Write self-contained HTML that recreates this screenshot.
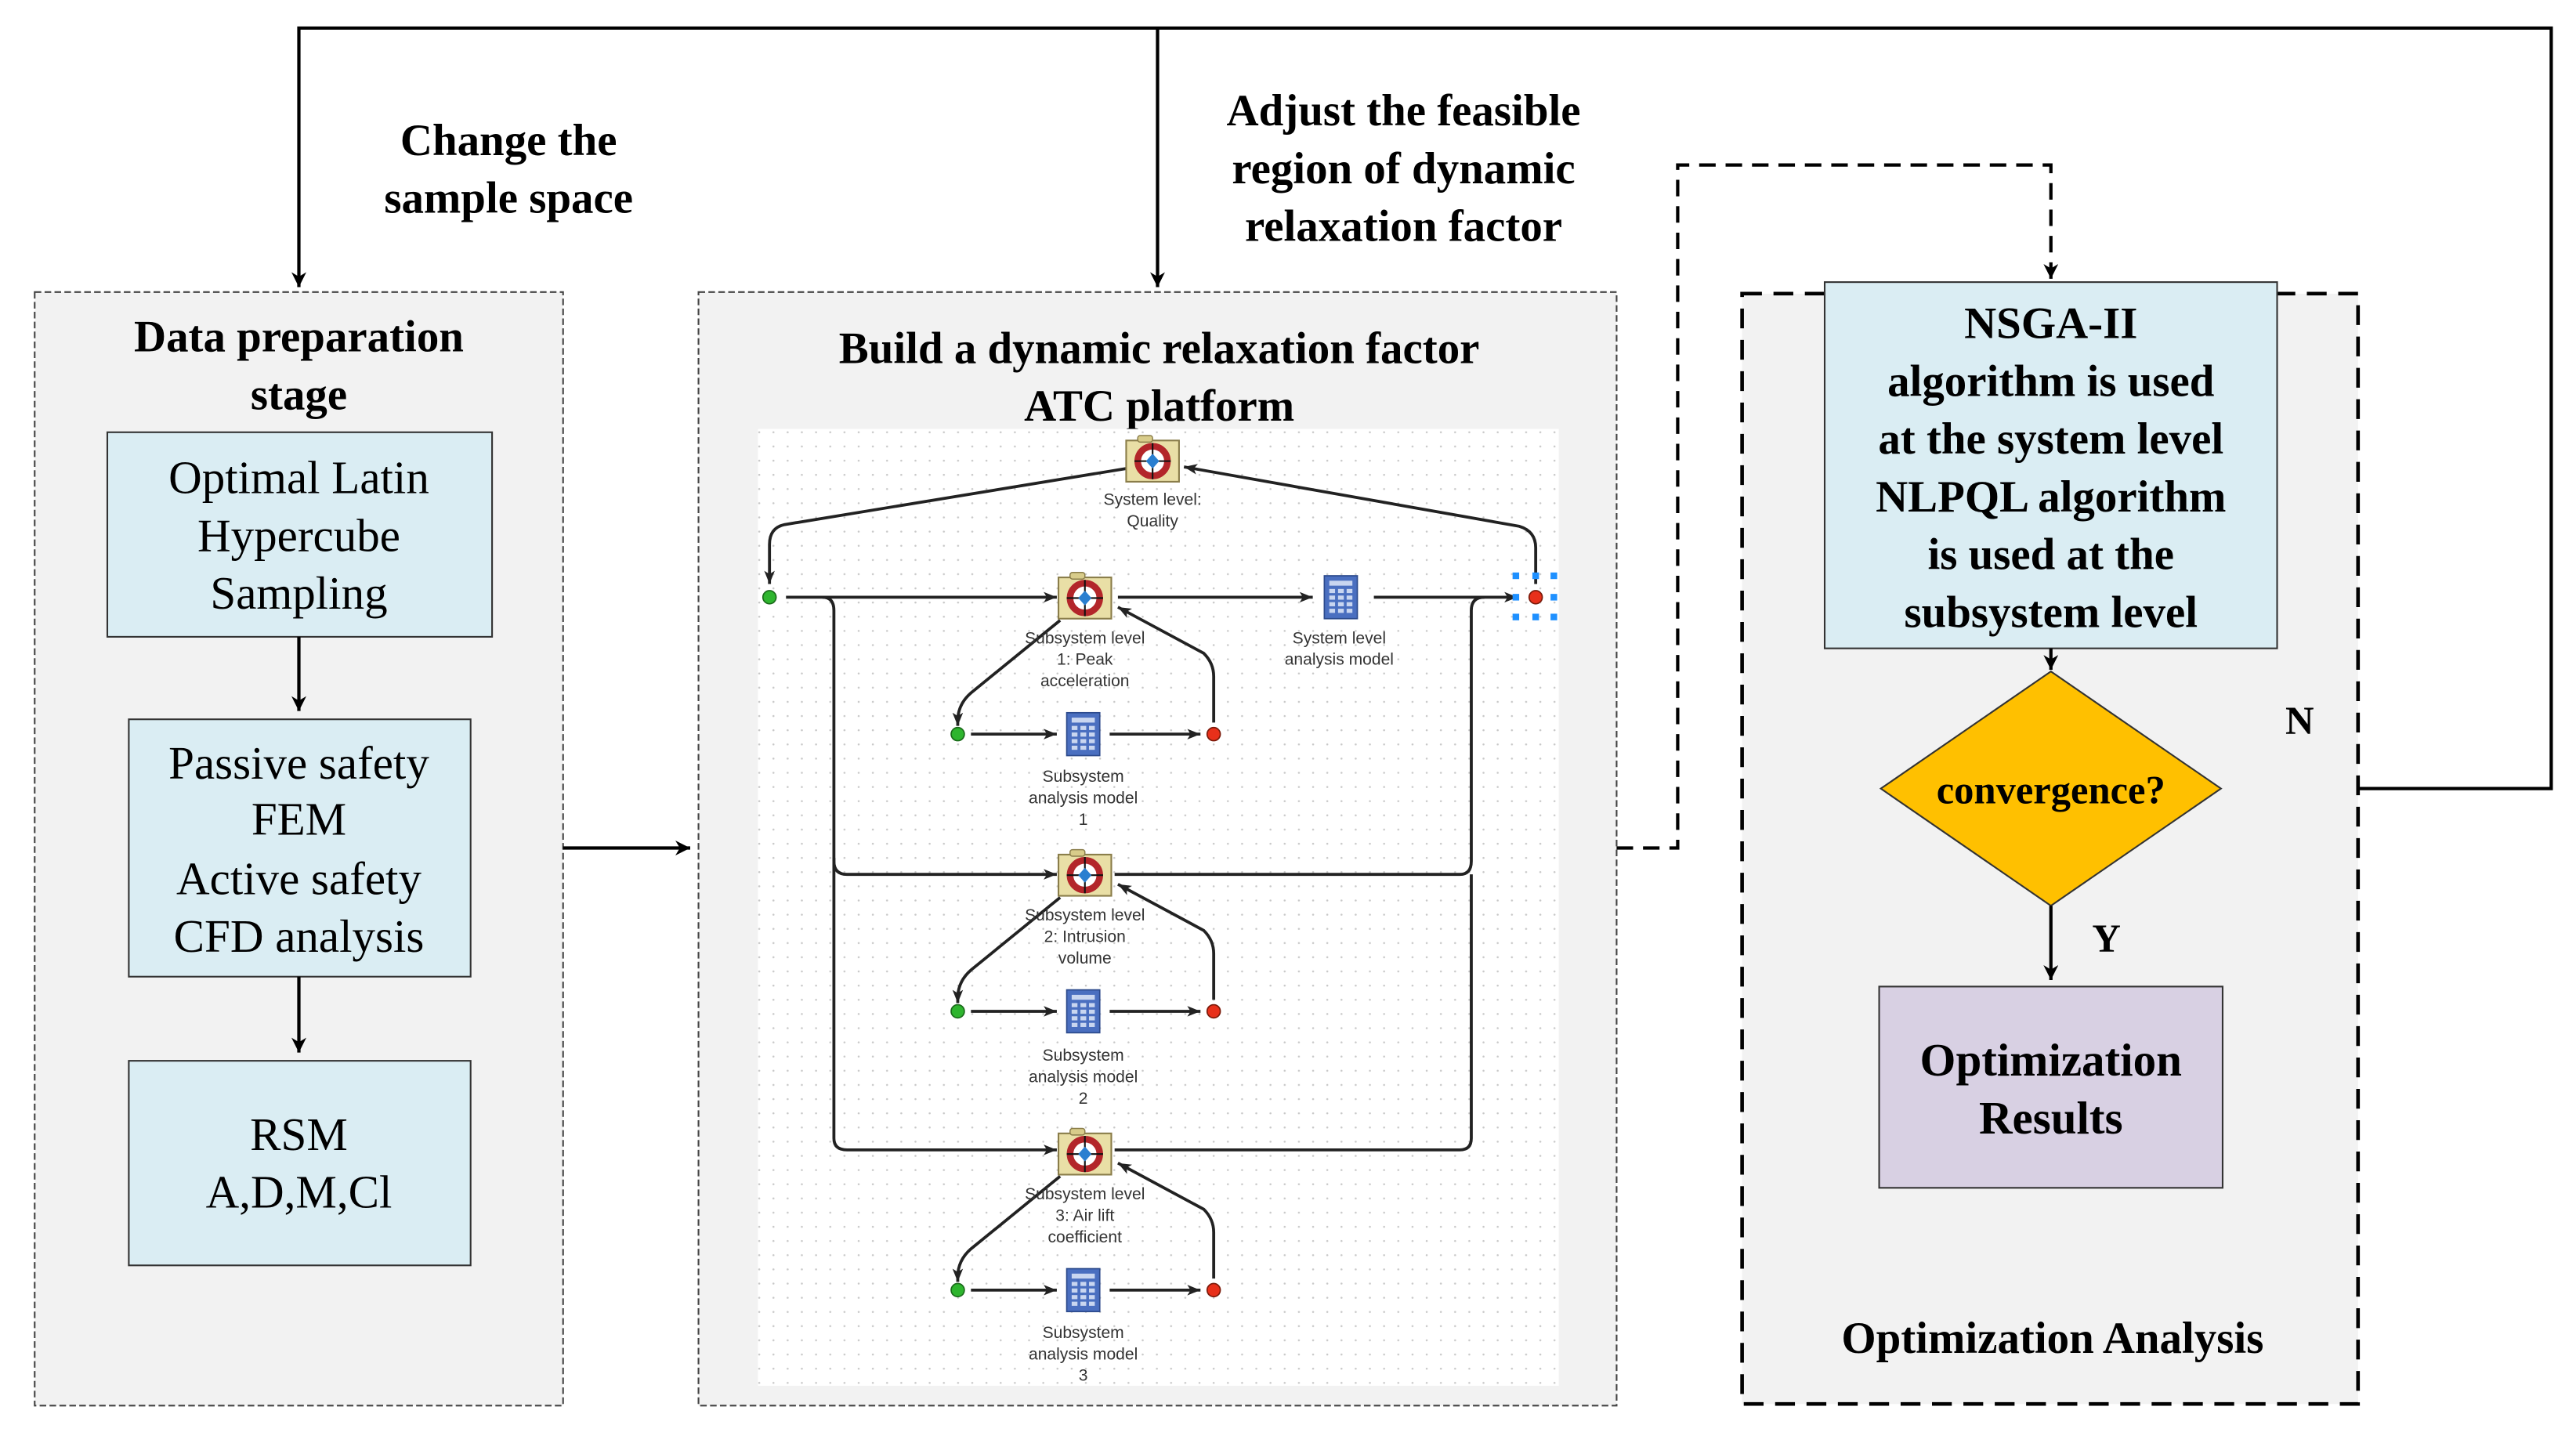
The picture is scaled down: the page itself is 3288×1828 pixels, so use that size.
<!DOCTYPE html>
<html><head><meta charset="utf-8"><style>
html,body{margin:0;padding:0;background:#fff}
svg{display:block}
.t{font-family:"Liberation Serif",serif;fill:#000}
.b{font-weight:bold}
.s{font-family:"Liberation Sans",sans-serif;font-size:10px;fill:#333;text-anchor:middle}
</style></head><body>
<svg width="3288" height="1828" viewBox="0 0 1560 868" preserveAspectRatio="none" xmlns="http://www.w3.org/2000/svg">
<defs>
<marker id="a" viewBox="0 0 10 10" refX="10" refY="5" markerWidth="9" markerHeight="9" orient="auto" markerUnits="userSpaceOnUse"><path d="M0,0 L10,5 L0,10 L3,5 z" fill="#000"/></marker>
<marker id="a2" viewBox="0 0 10 10" refX="10" refY="5" markerWidth="8" markerHeight="8" orient="auto" markerUnits="userSpaceOnUse"><path d="M0,1 L10,5 L0,9 L2.5,5 z" fill="#222"/></marker>
<pattern id="dots" width="8.6" height="8.6" patternUnits="userSpaceOnUse"><circle cx="4" cy="4" r="0.6" fill="#c8c8c8"/></pattern>
<g id="tgt">
<rect x="-16" y="-12" width="32" height="25" fill="#e9dfa6" stroke="#8a7d4a" stroke-width="1"/>
<rect x="-9" y="-15" width="9" height="4" rx="1.5" fill="#d8cc8a" stroke="#8a7d4a" stroke-width="0.7"/>
<circle cx="0" cy="0.5" r="9" fill="#fff" stroke="#b3262a" stroke-width="4"/>
<path d="M-11,0.5 H11 M0,-10.5 V11.5" stroke="#111" stroke-width="1"/>
<path d="M0,-4 L4,0.5 L0,5 L-4,0.5 z" fill="#2a7fd0"/>
</g>
<g id="calc">
<rect x="-10" y="-13" width="20" height="26" fill="#4a6fc0" stroke="#2c4a8c" stroke-width="0.8"/>
<rect x="-7" y="-10" width="14" height="3" fill="#c9d6f0"/>
<g fill="#c9d6f0">
<rect x="-7" y="-5" width="3.5" height="2.5"/><rect x="-1.7" y="-5" width="3.5" height="2.5"/><rect x="3.5" y="-5" width="3.5" height="2.5"/>
<rect x="-7" y="-1" width="3.5" height="2.5"/><rect x="-1.7" y="-1" width="3.5" height="2.5"/><rect x="3.5" y="-1" width="3.5" height="2.5"/>
<rect x="-7" y="3" width="3.5" height="2.5"/><rect x="-1.7" y="3" width="3.5" height="2.5"/><rect x="3.5" y="3" width="3.5" height="2.5"/>
<rect x="-7" y="7" width="3.5" height="2.5"/><rect x="-1.7" y="7" width="3.5" height="2.5"/><rect x="3.5" y="7" width="3.5" height="2.5"/>
</g>
</g>
<g id="gd"><circle r="4" fill="#2eb52e" stroke="#1a6a1a" stroke-width="0.8"/></g>
<g id="rd"><circle r="4" fill="#e8301a" stroke="#7a1a0a" stroke-width="0.8"/></g>
</defs>

<path d="M1345,478 H1545 V17 H181 V174" fill="none" stroke="#000" stroke-width="2" marker-end="url(#a)"/>
<path d="M701,17 V174" fill="none" stroke="#000" stroke-width="2" marker-end="url(#a)"/>

<rect x="21" y="177" width="320" height="675" fill="#f2f2f2" stroke="#444" stroke-width="1" stroke-dasharray="4,2"/>
<rect x="423" y="177" width="556" height="675" fill="#f2f2f2" stroke="#444" stroke-width="1" stroke-dasharray="4,2"/>
<rect x="1055" y="178" width="373" height="673" fill="#f2f2f2" stroke="#000" stroke-width="2.2" stroke-dasharray="12,7"/>

<g class="t b" font-size="27" text-anchor="middle">
<text x="308" y="94">Change the</text>
<text x="308" y="129">sample space</text>
<text x="850" y="76">Adjust the feasible</text>
<text x="850" y="111">region of dynamic</text>
<text x="850" y="146">relaxation factor</text>
</g>

<text class="t b" font-size="27" text-anchor="middle" x="181" y="213">Data preparation</text>
<text class="t b" font-size="27" text-anchor="middle" x="181" y="248">stage</text>
<rect x="65" y="262" width="233" height="124" fill="#daedf3" stroke="#333" stroke-width="1"/>
<g class="t" font-size="28" text-anchor="middle">
<text x="181" y="299">Optimal Latin</text><text x="181" y="334">Hypercube</text><text x="181" y="369">Sampling</text>
</g>
<path d="M181,386 V431" stroke="#000" stroke-width="2" marker-end="url(#a)"/>
<rect x="78" y="436" width="207" height="156" fill="#daedf3" stroke="#333" stroke-width="1"/>
<g class="t" font-size="28" text-anchor="middle">
<text x="181" y="472">Passive safety</text><text x="181" y="506">FEM</text><text x="181" y="542">Active safety</text><text x="181" y="577">CFD analysis</text>
</g>
<path d="M181,592 V638" stroke="#000" stroke-width="2" marker-end="url(#a)"/>
<rect x="78" y="643" width="207" height="124" fill="#daedf3" stroke="#333" stroke-width="1"/>
<g class="t" font-size="28" text-anchor="middle">
<text x="181" y="697">RSM</text><text x="181" y="732">A,D,M,Cl</text>
</g>
<path d="M341,514 H418" stroke="#000" stroke-width="2" marker-end="url(#a)"/>

<text class="t b" font-size="27" text-anchor="middle" x="702" y="220">Build a dynamic relaxation factor</text>
<text class="t b" font-size="27" text-anchor="middle" x="702" y="255">ATC platform</text>
<rect x="459" y="260" width="485" height="580" fill="#fff"/>
<rect x="459" y="260" width="485" height="580" fill="url(#dots)"/>

<g fill="none" stroke="#222" stroke-width="1.8">
<path d="M682,284 L475,318 Q466,320 466,330 V354" marker-end="url(#a2)"/>
<path d="M930,354 V332 Q930,322 920,319 L717,283" marker-end="url(#a2)"/>
<path d="M476,362 H640" marker-end="url(#a2)"/>
<path d="M677,362 H795" marker-end="url(#a2)"/>
<path d="M832,362 H919" marker-end="url(#a2)"/>
<path d="M498,362 Q505,362 505,370 V522 Q505,530 513,530 H640" marker-end="url(#a2)"/>
<path d="M505,520 V690 Q505,697 513,697 H640" marker-end="url(#a2)"/>
<path d="M675,530 H884 Q891,530 891,522 V370 Q891,362 899,362"/>
<path d="M675,697 H884 Q891,697 891,690 V530"/>
</g>
<use href="#tgt" x="698" y="279"/>
<text class="s" x="698" y="306">System level:</text>
<text class="s" x="698" y="319">Quality</text>
<use href="#gd" x="466" y="362"/>
<g fill="#1e90ff"><rect x="916" y="347" width="4" height="4"/><rect x="928" y="347" width="4" height="4"/><rect x="939" y="347" width="4" height="4"/><rect x="916" y="360" width="4" height="4"/><rect x="939" y="360" width="4" height="4"/><rect x="916" y="372" width="4" height="4"/><rect x="928" y="372" width="4" height="4"/><rect x="939" y="372" width="4" height="4"/></g>
<use href="#rd" x="930" y="362"/>
<use href="#calc" x="812" y="362"/>
<text class="s" x="811" y="390">System level</text>
<text class="s" x="811" y="403">analysis model</text>

<g id="sub1">
<g fill="none" stroke="#222" stroke-width="1.8">
<path d="M642,376 L588,420 Q580,427 580,437 V440" marker-end="url(#a2)"/>
<path d="M588,445 H640" marker-end="url(#a2)"/>
<path d="M672,445 H727" marker-end="url(#a2)"/>
<path d="M735,438 V410 Q735,402 729,396 L677,368" marker-end="url(#a2)"/>
</g>
<use href="#tgt" x="657" y="362"/>
<use href="#gd" x="580" y="445"/><use href="#calc" x="656" y="445"/><use href="#rd" x="735" y="445"/>
</g>
<use href="#sub1" y="168"/>
<use href="#sub1" y="337"/>
<g class="s">
<text x="657" y="390">Subsystem level</text><text x="657" y="403">1: Peak</text><text x="657" y="416">acceleration</text>
<text x="656" y="474">Subsystem</text><text x="656" y="487">analysis model</text><text x="656" y="500">1</text>
<text x="657" y="558">Subsystem level</text><text x="657" y="571">2: Intrusion</text><text x="657" y="584">volume</text>
<text x="656" y="643">Subsystem</text><text x="656" y="656">analysis model</text><text x="656" y="669">2</text>
<text x="657" y="727">Subsystem level</text><text x="657" y="740">3: Air lift</text><text x="657" y="753">coefficient</text>
<text x="656" y="811">Subsystem</text><text x="656" y="824">analysis model</text><text x="656" y="837">3</text>
</g>

<path d="M979,514 H1016 V100 H1242 V169" fill="none" stroke="#000" stroke-width="2" stroke-dasharray="10,6" marker-end="url(#a)"/>

<rect x="1105" y="171" width="274" height="222" fill="#daedf3" stroke="#333" stroke-width="1"/>
<g class="t b" font-size="27" text-anchor="middle">
<text x="1242" y="205">NSGA-II</text><text x="1242" y="240">algorithm is used</text><text x="1242" y="275">at the system level</text>
<text x="1242" y="310">NLPQL algorithm</text><text x="1242" y="345">is used at the</text><text x="1242" y="380">subsystem level</text>
</g>
<path d="M1242,393 V406" stroke="#000" stroke-width="2" marker-end="url(#a)"/>
<path d="M1242,407 L1345,478 L1242,549 L1139,478 z" fill="#ffc000" stroke="#333" stroke-width="1"/>
<text class="t b" font-size="24" text-anchor="middle" x="1242" y="487">convergence?</text>
<text class="t b" font-size="24" x="1384" y="445">N</text>
<text class="t b" font-size="24" x="1267" y="577">Y</text>
<path d="M1242,549 V594" stroke="#000" stroke-width="2" marker-end="url(#a)"/>
<rect x="1138" y="598" width="208" height="122" fill="#d8d0e3" stroke="#333" stroke-width="1"/>
<g class="t b" font-size="28" text-anchor="middle">
<text x="1242" y="652">Optimization</text><text x="1242" y="687">Results</text>
</g>
<text class="t b" font-size="27" text-anchor="middle" x="1243" y="820">Optimization Analysis</text>
</svg>
</body></html>
